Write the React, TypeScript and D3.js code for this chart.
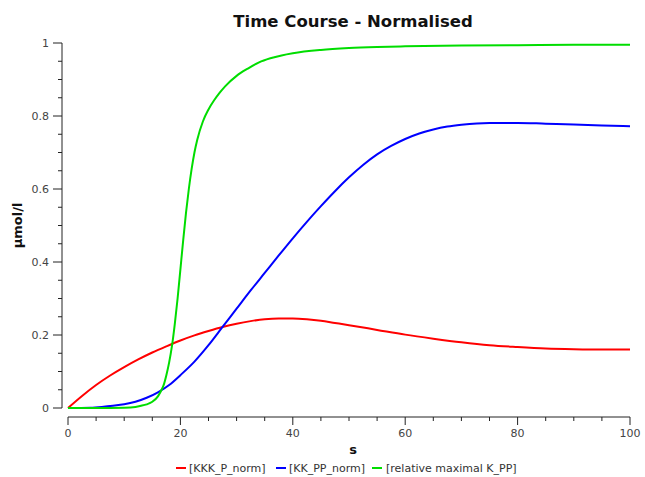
import React from "react";
import * as d3 from "d3";

// Time course samples (s) and normalised concentrations
const kkkTime = [0, 2.5, 5, 7.5, 10, 12.5, 15, 17.5, 20, 22.5, 25, 27.5, 30, 32.5, 35, 37.5, 40, 42.5, 45, 47.5, 50, 55, 60, 65, 70, 75, 80, 85, 90, 95, 100];
const kkkPNorm = [0, 0.033, 0.063, 0.089, 0.112, 0.133, 0.152, 0.169, 0.185, 0.199, 0.211, 0.222, 0.231, 0.238, 0.243, 0.245, 0.245, 0.243, 0.239, 0.233, 0.227, 0.214, 0.201, 0.19, 0.18, 0.172, 0.167, 0.163, 0.161, 0.16, 0.16];

const kkTime = [0, 4, 6, 8, 10, 12, 14, 16, 18, 20, 22.5, 25, 27.5, 30, 32.5, 35, 37.5, 40, 42.5, 45, 47.5, 50, 52.5, 55, 57.5, 60, 62.5, 65, 67.5, 70, 75, 80, 85, 90, 95, 100];
const kkPPNorm = [0, 0.001, 0.003, 0.006, 0.01, 0.017, 0.028, 0.043, 0.063, 0.09, 0.127, 0.172, 0.222, 0.272, 0.322, 0.37, 0.418, 0.465, 0.51, 0.553, 0.594, 0.632, 0.666, 0.695, 0.718, 0.737, 0.752, 0.763, 0.771, 0.776, 0.781, 0.781, 0.779, 0.777, 0.774, 0.772];

const kppTime = [0, 5, 10, 12, 13, 14, 15, 16, 16.5, 17, 17.5, 18, 18.5, 19, 19.5, 20, 20.5, 21, 21.5, 22, 22.5, 23, 24, 25, 26, 27, 28, 30, 32, 34, 36, 38, 40, 45, 50, 55, 60, 70, 80, 90, 100];
const kppRelMax = [0, 0, 0.001, 0.003, 0.006, 0.01, 0.017, 0.032, 0.045, 0.062, 0.09, 0.125, 0.17, 0.23, 0.3, 0.38, 0.46, 0.535, 0.6, 0.655, 0.7, 0.735, 0.785, 0.818, 0.843, 0.864, 0.882, 0.91, 0.93, 0.947, 0.958, 0.966, 0.972, 0.981, 0.986, 0.989, 0.991, 0.993, 0.994, 0.995, 0.995];

const seriesNames = ["[KKK_P_norm]", "[KK_PP_norm]", "[relative maximal K_PP]"];
const seriesColors = ["#ff0000", "#0000ff", "#00dd00"];

const xTicks = [0, 20, 40, 60, 80, 100];
const yTicks = [0, 0.2, 0.4, 0.6, 0.8, 1];

const title = "Time Course - Normalised";
const xLabel = "s";
const yLabel = "µmol/l";

const W = 645;
const H = 477;
const FONT = "'DejaVu Sans', Verdana, sans-serif";

export default function App() {
  const x = d3.scaleLinear().domain([0, 100]).range([68, 630]);
  const y = d3.scaleLinear().domain([0, 1]).range([408, 43]);

  const series = [
    { t: kkkTime, v: kkkPNorm },
    { t: kkTime, v: kkPPNorm },
    { t: kppTime, v: kppRelMax },
  ];

  const line = d3
    .line<[number, number]>()
    .x((d) => x(d[0]))
    .y((d) => y(d[1]))
    .curve(d3.curveMonotoneX);

  const xAxisY = 417;
  const yAxisX = 62;
  const xMinor = d3.range(0, 100.001, 5).filter((v) => v % 20 !== 0);
  const yMinor = d3.range(0, 1.0001, 0.05).filter((v) => Math.abs(v * 5 - Math.round(v * 5)) > 1e-6);

  // legend layout
  const legendY = 468;
  const legendItems = [
    { x: 176, textX: 189 },
    { x: 276, textX: 289 },
    { x: 372, textX: 386 },
  ];

  return (
    <svg
      width={W}
      height={H}
      style={{ position: "absolute", left: 0, top: 0, background: "#fff" }}
      fontFamily={FONT}
    >
      <rect x={0} y={0} width={W} height={H} fill="#fff" />
      <text x={353} y={27} textAnchor="middle" fontSize={16.5} fontWeight="bold" fill="#111">
        {title}
      </text>

      {/* y axis */}
      <line x1={yAxisX} x2={yAxisX} y1={y(1)} y2={y(0)} stroke="#222" strokeWidth={1} />
      {yTicks.map((v) => (
        <g key={"yt" + v}>
          <line x1={yAxisX - 9} x2={yAxisX} y1={y(v)} y2={y(v)} stroke="#222" />
          <text x={yAxisX - 13} y={y(v) + 4} textAnchor="end" fontSize={11} fill="#444">
            {v === 0 || v === 1 ? String(v) : v.toFixed(1)}
          </text>
        </g>
      ))}
      {yMinor.map((v) => (
        <line key={"ym" + v} x1={yAxisX - 4} x2={yAxisX} y1={y(v)} y2={y(v)} stroke="#222" />
      ))}
      <text
        transform={`translate(22,${(y(0) + y(1)) / 2}) rotate(-90)`}
        textAnchor="middle"
        fontSize={13}
        fontWeight="bold"
        fill="#111"
      >
        {yLabel}
      </text>

      {/* x axis */}
      <line x1={x(0)} x2={x(100)} y1={xAxisY} y2={xAxisY} stroke="#222" />
      {xTicks.map((v) => (
        <g key={"xt" + v}>
          <line x1={x(v)} x2={x(v)} y1={xAxisY} y2={xAxisY + 8} stroke="#222" />
          <text x={x(v)} y={xAxisY + 20} textAnchor="middle" fontSize={11} fill="#444">
            {v}
          </text>
        </g>
      ))}
      {xMinor.map((v) => (
        <line key={"xm" + v} x1={x(v)} x2={x(v)} y1={xAxisY} y2={xAxisY + 4} stroke="#222" />
      ))}
      <text x={353} y={454} textAnchor="middle" fontSize={13} fontWeight="bold" fill="#111">
        {xLabel}
      </text>

      {/* series */}
      {series.map((s, i) => (
        <path
          key={"s" + i}
          d={line(s.t.map((t, j) => [t, s.v[j]] as [number, number])) || ""}
          fill="none"
          stroke={seriesColors[i]}
          strokeWidth={2}
        />
      ))}

      {/* legend */}
      {legendItems.map((it, i) => (
        <g key={"lg" + i}>
          <line x1={it.x} x2={it.x + 10} y1={legendY} y2={legendY} stroke={seriesColors[i]} strokeWidth={2} />
          <text x={it.textX} y={legendY + 4} fontSize={11} fill="#333">
            {seriesNames[i]}
          </text>
        </g>
      ))}
    </svg>
  );
}
